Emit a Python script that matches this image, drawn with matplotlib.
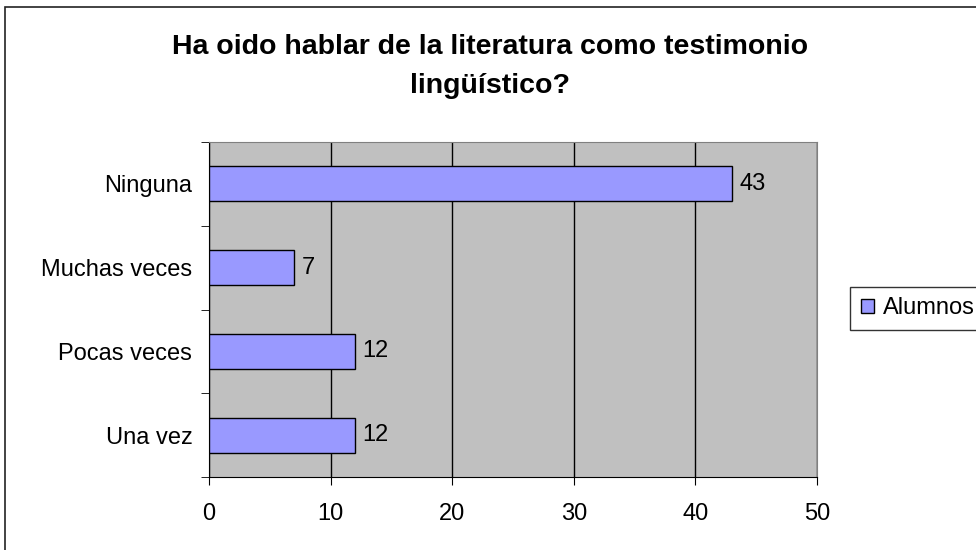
import matplotlib.pyplot as plt
from matplotlib.patches import Rectangle

plt.rcParams['font.family'] = ['Liberation Sans', 'DejaVu Sans']

categories = ['Una vez', 'Pocas veces', 'Muchas veces', 'Ninguna']
alumnos = [12, 12, 7, 43]
xticks = [0, 10, 20, 30, 40, 50]

W, H = 976, 550
fs = 17
fig = plt.figure(figsize=(W / 100, H / 100), dpi=100)

# outer chart border (runs off the right and bottom edge)
fig.patches.append(Rectangle((5 / W, -0.05), 1.2, 1 - 7 / H + 0.05,
                             transform=fig.transFigure, fill=False,
                             edgecolor='#222222', linewidth=1.2))

ax = fig.add_axes([209 / W, 1 - 477 / H, (817 - 209) / W, (477 - 142) / H])
ax.set_facecolor('#C0C0C0')

y = range(len(categories))
bars = ax.barh(y, alumnos, height=0.42, color='#9999FF', edgecolor='black',
               linewidth=1, label='Alumnos', zorder=3)
for b, v in zip(bars, alumnos):
    ax.text(b.get_width() + 0.6, b.get_y() + b.get_height() / 2, str(v),
            va='center', ha='left', fontsize=fs, zorder=4)

ax.set_xlim(0, 50)
ax.set_ylim(-0.5, len(categories) - 0.5)
ax.set_xticks(xticks)
ax.set_xticklabels([str(t) for t in xticks], fontsize=fs)
ax.set_yticks(list(y))
ax.set_yticklabels(categories, fontsize=fs)
ax.set_yticks([i - 0.5 for i in range(len(categories) + 1)], minor=True)
ax.tick_params(axis='y', which='major', length=0, pad=12)
ax.tick_params(axis='y', which='minor', length=6, direction='out')
ax.tick_params(axis='x', length=6, direction='out', pad=13)
ax.xaxis.grid(True, color='black', linewidth=1, zorder=1)
ax.set_axisbelow(True)

ax.spines['left'].set_color('black')
ax.spines['bottom'].set_color('black')
ax.spines['top'].set_color('#808080')
ax.spines['right'].set_color('#808080')

fig.text(490 / W, 1 - 47 / H, 'Ha oido hablar de la literatura como testimonio',
         ha='center', va='center', fontsize=20.5, fontweight='bold')
fig.text(490 / W, 1 - 86 / H, 'lingüístico?',
         ha='center', va='center', fontsize=20.5, fontweight='bold')

leg = fig.legend(handles=[bars], labels=['Alumnos'], loc='center left',
                 bbox_to_anchor=(850 / W, 1 - 308.5 / H), fontsize=fs,
                 frameon=True, fancybox=False, edgecolor='black',
                 handlelength=0.55, handleheight=0.55, handletextpad=0.38,
                 borderpad=0.45, borderaxespad=0)
leg.get_frame().set_linewidth(1)

fig.savefig('out.png', dpi=100)
